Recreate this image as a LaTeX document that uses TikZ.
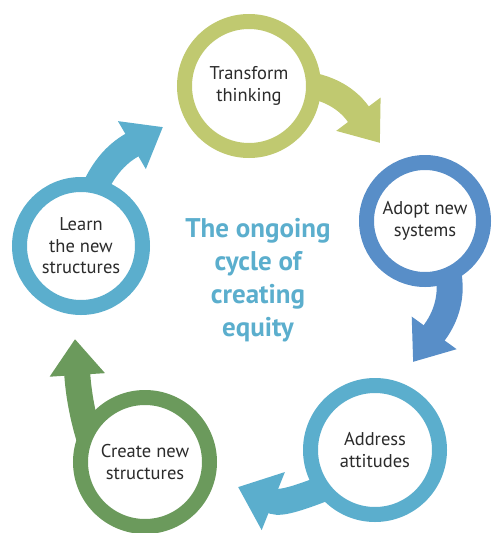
\documentclass[tikz,border=0pt]{standalone}
\usepackage{fontspec}
\setmainfont{PT Sans}
\usetikzlibrary{arrows.meta,calc,backgrounds}
\definecolor{cOlive}{HTML}{C0C970}
\definecolor{cBlue}{HTML}{588EC8}
\definecolor{cLight}{HTML}{5BAECD}
\definecolor{cGreen}{HTML}{6B9A5C}
\definecolor{cText}{HTML}{2B2B2B}
\begin{document}
\begin{tikzpicture}[x=1pt,y=-1pt,
  ring/.style={circle, line width=15pt, fill=white, inner sep=0pt, align=center,
    text=cText, font=\fontsize{18.5}{21.5}\selectfont},
  arr/.style={line width=26pt, -{Triangle[length=36pt,width=53pt]}},
  title/.style={font=\bfseries\fontsize{27}{33}\selectfont, text=cLight, align=center}]
\useasboundingbox (0,0) rectangle (492,533);
\node[ring, draw=cOlive, minimum size=129pt] (T) at (249,86) {Transform\\thinking};
\node[ring, draw=cBlue, minimum size=117pt] (A) at (425,221) {Adopt new\\systems};
\node[ring, draw=cLight, minimum size=129pt] (D) at (375,450) {Address\\attitudes};
\node[ring, draw=cGreen, minimum size=129pt] (C) at (145,462) {Create new\\structures};
\node[ring, draw=cLight, minimum size=123pt] (L) at (81,246) {Learn\\the new\\structures};
\node[title] (ttl) at (258,280) {The ongoing\\cycle of\\creating\\equity};
\coordinate (b1) at (357.8,113.4); \coordinate (e1) at (380,143);
\coordinate (b2) at (434.8,332);   \coordinate (e2) at (413,362);
\coordinate (b3) at (273.3,501.1); \coordinate (e3) at (238,487);
\coordinate (b4) at (77.3,374.9);  \coordinate (e4) at (75,339);
\coordinate (b5) at (131.9,145.1); \coordinate (e5) at (163,127);
\begin{scope}[on background layer]
\draw[arr, cOlive] ($(T.center)+(40,-3)$) .. controls (325,84) and (346,97.4) .. (b1) -- (e1);
\draw[arr, cBlue] ($(A.center)+(15,29)$) .. controls (458,285) and (447.8,314.2) .. (b2) -- (e2);
\draw[cLight, line width=26pt, -{Triangle[length=38pt,width=60pt]}] ($(D.center)+(-30,30)$) .. controls (310,494) and (282.6,504.8) .. (b3) -- (e3);
\draw[arr, cGreen] ($(C.center)+(-50,-7)$) .. controls (82,420) and (78.3,389.9) .. (b4) -- (e4);
\draw[arr, cLight] ($(L.center)+(7,-41)$) .. controls (100,170) and (116.3,154.1) .. (b5) -- (e5);
\end{scope}
\end{tikzpicture}
\end{document}
